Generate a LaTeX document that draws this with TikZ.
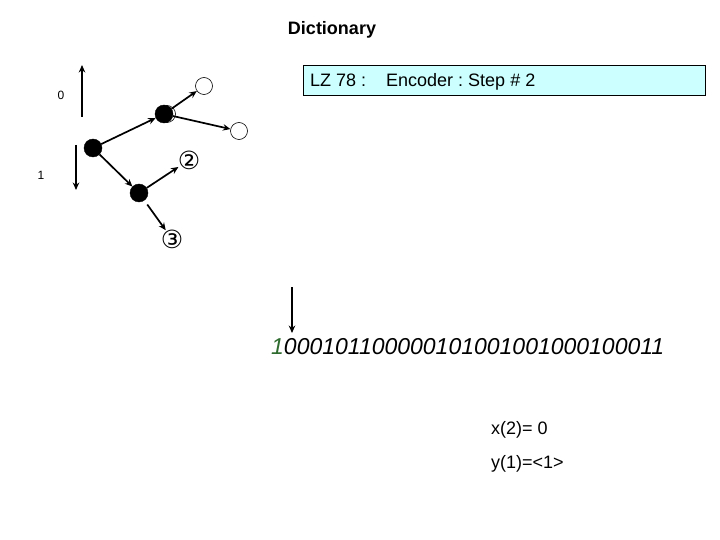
\documentclass[tikz,border=0pt]{standalone}
\usepackage{fontspec}
\setmainfont{Liberation Sans}
\newfontfamily\symfont{DejaVu Sans}
\usetikzlibrary{arrows.meta}
\definecolor{boxfill}{HTML}{CCFFFF}
\definecolor{bitgreen}{HTML}{2E6B2E}
\frenchspacing
\begin{document}
\begin{tikzpicture}[x=1pt,y=-1pt,
  arr/.style={line width=1.7pt,-{Stealth[length=7.5pt,width=6.5pt]}},
  blk/.style={circle,fill=black,draw=black,inner sep=0pt,minimum size=18pt},
  wht/.style={circle,fill=white,draw=black,line width=0.6pt,inner sep=0pt,minimum size=17pt},
  lbl/.style={inner sep=0pt,font=\fontsize{12}{14}\selectfont},
  circ/.style={inner sep=0pt,font=\symfont\fontsize{25}{27}\selectfont},
  txt/.style={inner sep=0pt,anchor=base west,font=\fontsize{18}{21}\selectfont}]
\useasboundingbox (0,0) rectangle (720,540);
% title
\node[inner sep=0pt,font=\fontsize{18}{21}\selectfont\bfseries] (title) at (332,30) {Dictionary};
% header box
\node[draw=black,line width=0.8pt,fill=boxfill,minimum width=402pt,minimum height=30pt,inner sep=0pt] (box) at (504,80) {};
\node[txt] (lz) at (310,87) {LZ 78 :};
\node[txt] (enc) at (386,87) {Encoder : Step \# 2};
% axis labels
\node[lbl] (l0) at (61,95) {0};
\node[lbl] (l1) at (41,175) {1};
\coordinate (u0) at (82,117); \coordinate (u1) at (82,65);
\coordinate (d0) at (76,145); \coordinate (d1) at (76,190);
\draw[arr] (u0) -- (u1);
\draw[arr] (d0) -- (d1);
% tree
\node[wht] (Bg) at (167,114) {};
\node[blk] (A) at (93,148) {};
\node[blk] (B) at (164,114) {};
\node[blk] (C) at (139,193) {};
\node[wht] (W1) at (204,86) {};
\node[wht] (W2) at (239,131) {};
\node[circ] (n2) at (189,160) {②};
\node[circ] (n3) at (172,239) {③};
\draw[arr] (A) -- (B);
\draw[arr] (B) -- (W1);
\draw[arr] (B) -- (W2);
\draw[arr] (A) -- (C);
\draw[arr,shorten >=-1pt] (C) -- (n2);
\draw[arr,shorten <=5pt,shorten >=-1pt] (C) -- (n3);
% bit string
\coordinate (b0) at (292,287); \coordinate (b1) at (292,333);
\draw[arr] (b0) -- (b1);
\node[inner sep=0pt,anchor=west,font=\fontsize{23}{26}\selectfont\itshape] (bits) at (271,347) {\textcolor{bitgreen}{1}000101100000101001001000100011};
% outputs
\node[txt] (x2) at (491,434) {x(2)= 0};
\node[txt] (y1) at (491,468) {y(1)=<1>};
\end{tikzpicture}
\end{document}
